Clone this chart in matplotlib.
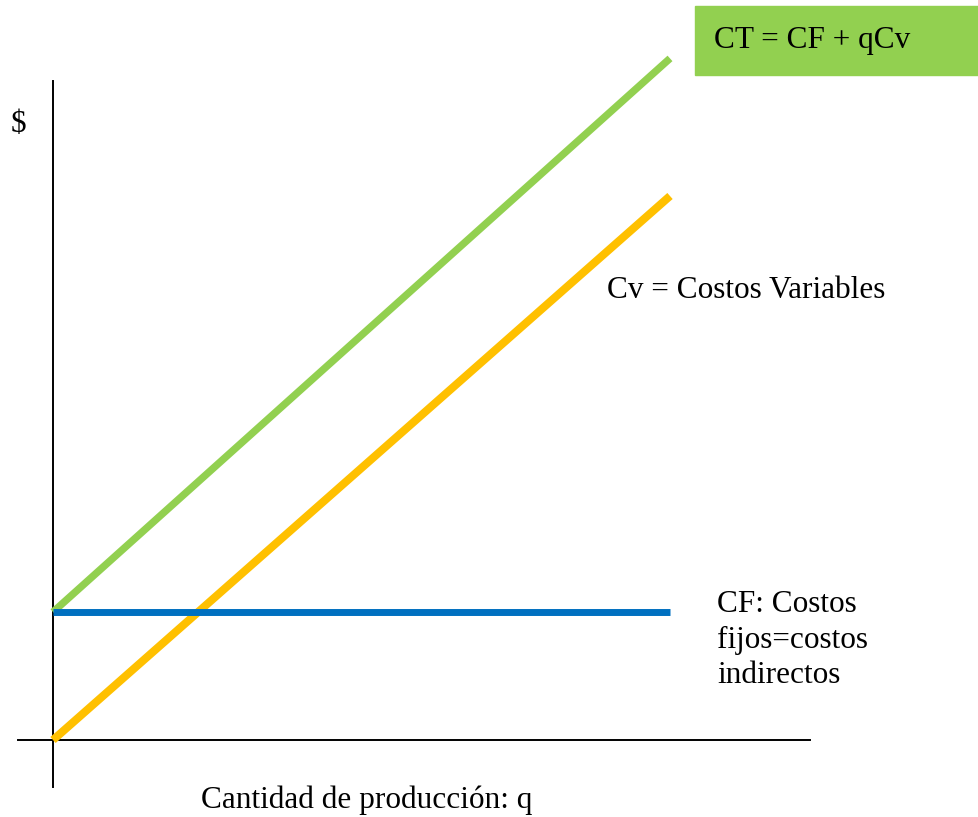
import matplotlib
matplotlib.use('Agg')
import matplotlib.pyplot as plt
from matplotlib.patches import Rectangle

# Datos (unidades arbitrarias)
q = [0, 10]
cf = [2, 2]             # costos fijos
cv = [0, 8.5]           # costos variables
ct = [2, 10.65]         # costo total = CF + qCv

W, H = 979, 817
plt.rcParams['font.family'] = ['Liberation Serif', 'DejaVu Serif']

fig = plt.figure(figsize=(W / 100, H / 100), dpi=100)
ax = fig.add_axes([0, 0, 1, 1])

# escala: q=0 en x=53px, q=10 en x=670px; $=0 en y=740px, 1 unidad = 64px
sx = 617 / 10
sy = 64.0
x0, y0 = 53, 740


def px(x, y):
    return (x - x0) / sx, (y0 - y) / sy


ax.set_xlim(px(0, 0)[0], px(W, 0)[0])
ax.set_ylim(px(0, H)[1], px(0, 0)[1])
ax.axis('off')

# ejes
ax.plot([0, 0], [px(0, 787)[1], px(0, 81)[1]], color='black', lw=1.4)
ax.plot([px(18, 0)[0], px(810, 0)[0]], [0, 0], color='black', lw=1.4)

ax.plot(q, ct, color='#92D050', lw=5.3, solid_capstyle='butt')
ax.plot(q, cv, color='#FFC000', lw=5.8, solid_capstyle='butt')
ax.plot(q, cf, color='#0070C0', lw=5.0, solid_capstyle='butt')

fs = 22.5
ax.text(*px(11, 124), '$', fontsize=fs, va='center', ha='left')
ax.text(*px(607, 290), 'Cv = Costos Variables', fontsize=fs, va='center', ha='left')
ax.text(*px(717, 640), 'CF: Costos\nfijos=costos\nindirectos', fontsize=fs,
        va='center', ha='left', linespacing=1.3)
ax.text(*px(367, 800), 'Cantidad de producción: q', fontsize=fs, va='center', ha='center')

# recuadro verde
ax.add_patch(Rectangle((695 / W, 1 - 75 / H), (W - 695) / W, 69 / H,
                       transform=fig.transFigure, color='#92D050', zorder=0,
                       clip_on=False))
ax.text(*px(714, 40), 'CT = CF + qCv', fontsize=fs, va='center', ha='left', zorder=3)

fig.savefig('out.png', dpi=100)
